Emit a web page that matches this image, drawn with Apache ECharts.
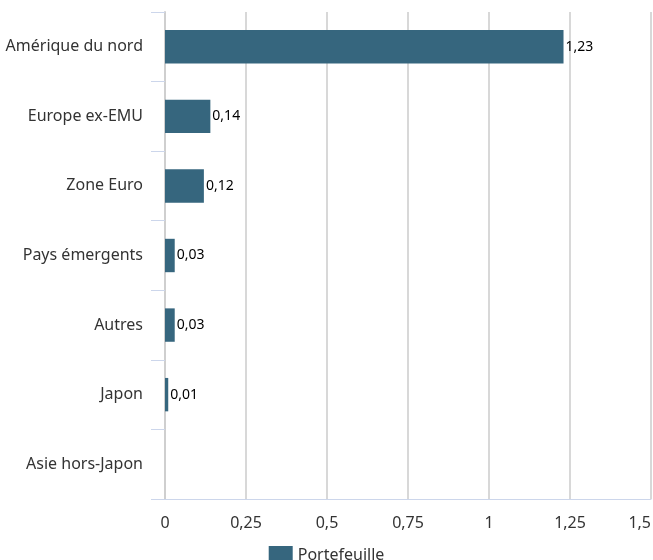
<!DOCTYPE html>
<html>
<head>
<meta charset="utf-8">
<script src="https://cdn.jsdelivr.net/npm/echarts@6/dist/echarts.min.js"></script>
<style>
  html, body { margin: 0; padding: 0; background: #fff; overflow: hidden; }
  #chart { width: 653px; height: 560px; }
</style>
</head>
<body>
<div id="chart"></div>
<script>
// Regional breakdown of the portfolio
const categories = ['Amérique du nord', 'Europe ex-EMU', 'Zone Euro', 'Pays émergents', 'Autres', 'Japon', 'Asie hors-Japon'];
const portefeuille = [1.23, 0.14, 0.12, 0.03, 0.03, 0.01, null];
const seriesName = 'Portefeuille';
const xMin = 0, xMax = 1.5, xStep = 0.25;

const fmt = v => String(v).replace('.', ',');
const FONT = '"Noto Sans", "Open Sans", sans-serif';

const chart = echarts.init(document.getElementById('chart'), null, { renderer: 'canvas', width: 653, height: 560 });
chart.setOption({
  animation: false,
  textStyle: { fontFamily: FONT },
  grid: { left: 165, right: 2, top: 12, bottom: 61, containLabel: false, outerBoundsMode: 'none' },
  legend: {
    data: [seriesName],
    bottom: -9,
    left: 'center',
    itemWidth: 24,
    itemHeight: 18,
    itemGap: 8,
    icon: 'rect',
    textStyle: { fontSize: 16, color: '#333', fontFamily: FONT }
  },
  xAxis: {
    type: 'value',
    min: xMin,
    max: xMax,
    interval: xStep,
    axisLine: { show: true, lineStyle: { color: '#ccd6eb', width: 1 } },
    axisTick: { show: false },
    splitLine: { show: true, lineStyle: { color: '#d8d8d8', width: 2 } },
    axisLabel: { formatter: fmt, fontSize: 16, color: '#333', margin: 16, fontFamily: FONT, alignMaxLabel: 'right' }
  },
  yAxis: {
    type: 'category',
    data: categories,
    inverse: true,
    axisLine: { show: true, lineStyle: { color: '#cfcfcf', width: 2 } },
    axisTick: { show: true, length: 14, lineStyle: { color: '#ccd6eb', width: 1 } },
    axisLabel: { fontSize: 16, color: '#333', margin: 22, fontFamily: FONT }
  },
  series: [{
    name: seriesName,
    type: 'bar',
    data: portefeuille,
    barWidth: '48%',
    itemStyle: { color: '#36667e' },
    label: {
      show: true,
      position: 'right',
      distance: 2,
      fontSize: 14,
      color: '#000',
      fontFamily: FONT,
      formatter: p => (p.value == null ? '' : fmt(p.value))
    }
  }]
});
</script>
</body>
</html>
